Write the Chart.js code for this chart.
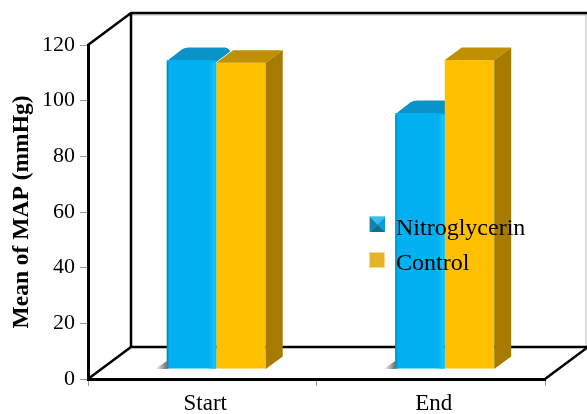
<!DOCTYPE html>
<html>
<head>
<meta charset="utf-8">
<style>
    html, body { margin: 0; padding: 0; background: #fff; }
    canvas { display: block; }
</style>
<script src="https://cdn.jsdelivr.net/npm/chart.js@4/dist/chart.umd.min.js"></script>
</head>
<body>
<canvas id="chart" width="587" height="414"></canvas>
<script>
const categories = [ 'Start', 'End' ];
const seriesNames = [ 'Nitroglycerin', 'Control' ];
const nitroglycerin = [ 111, 92 ];
const control = [ 110, 111 ];
const yTicks = [ 0, 20, 40, 60, 80, 100, 120 ];

const SERIF = '"Liberation Serif", "Times New Roman", serif';
const BLUE = '#00b0f0';
const BLUE_TOP = '#0a93c8';
const GOLD = '#ffc000';
const GOLD_TOP = '#c09000';
const GOLD_SIDE = '#a67c00';

// frame depth (wall behind the plot), bar offset on the floor, bar's own depth
const WALL_X = 43, WALL_Y = 32;
const FLOOR_X = 14, FLOOR_Y = 10;
const BAR_X = 17, BAR_Y = 12.5;

function polygon( ctx, pts, fill ) {
    ctx.beginPath();
    pts.forEach( ( p, i ) => i ? ctx.lineTo( p[ 0 ], p[ 1 ] ) : ctx.moveTo( p[ 0 ], p[ 1 ] ) );
    ctx.closePath();
    ctx.fillStyle = fill;
    ctx.fill();
}

function line( ctx, pts, colour, width ) {
    ctx.beginPath();
    pts.forEach( ( p, i ) => i ? ctx.lineTo( p[ 0 ], p[ 1 ] ) : ctx.moveTo( p[ 0 ], p[ 1 ] ) );
    ctx.strokeStyle = colour;
    ctx.lineWidth = width;
    ctx.stroke();
}

function drawFrame( chart ) {
    const { ctx, chartArea: a, width } = chart;
    const backLeft = a.left + WALL_X, backTop = a.top - WALL_Y, backBottom = a.bottom - WALL_Y;
    line( ctx, [ [ width - 1, backTop ], [ width - 1, backBottom ] ], '#bbb', 1 );
    line( ctx, [ [ backLeft, backTop + 2 ], [ width, backTop + 2 ] ], '#bbb', 1 );
    line( ctx, [ [ a.left, a.top ], [ backLeft, backTop ], [ width, backTop ] ], '#000', 2.5 );
    line( ctx, [ [ backLeft, backTop ], [ backLeft, backBottom ] ], '#000', 2.5 );
    line( ctx, [ [ a.left, a.bottom ], [ backLeft, backBottom ], [ width, backBottom ] ], '#000', 2.5 );
    line( ctx, [ [ a.right, a.bottom ], [ a.right + WALL_X, backBottom ] ], '#000', 2.5 );
}

// rounded top of the nitroglycerin bars, sits behind the control bar
function drawNitroTop( ctx, bar ) {
    const l = bar.x - bar.width / 2 + FLOOR_X, r = bar.x + bar.width / 2 + FLOOR_X, t = bar.y - FLOOR_Y;
    const backY = t - 12.5, backX = 19;
    ctx.beginPath();
    ctx.moveTo( l, t + 5 );
    ctx.quadraticCurveTo( l, t + 1, l + 4, t - 2 );
    ctx.lineTo( l + backX - 4, backY + 2 );
    ctx.quadraticCurveTo( l + backX - 1, backY, l + backX + 3, backY );
    ctx.lineTo( r + 8, backY );
    ctx.quadraticCurveTo( r + 12, backY, r + 14, backY + 4 );
    ctx.lineTo( r, t + 2 );
    ctx.closePath();
    ctx.fillStyle = BLUE_TOP;
    ctx.fill();
}

function drawNitroShade( ctx, bar, base ) {
    const l = bar.x - bar.width / 2 + FLOOR_X, r = bar.x + bar.width / 2 + FLOOR_X;
    const t = bar.y - FLOOR_Y, b = base - FLOOR_Y;
    const g = ctx.createLinearGradient( l, 0, r, 0 );
    g.addColorStop( 0, 'rgba(0,100,150,.7)' );
    g.addColorStop( 0.07, 'rgba(0,176,240,0)' );
    g.addColorStop( 0.82, 'rgba(0,176,240,0)' );
    g.addColorStop( 0.95, 'rgba(30,200,255,.8)' );
    g.addColorStop( 1, 'rgba(30,200,255,.3)' );
    ctx.fillStyle = g;
    ctx.fillRect( l, t + 2, r - l, b - t - 2 );

    const s = ctx.createLinearGradient( l - 12, 0, l, 0 );
    s.addColorStop( 0, 'rgba(120,120,120,0)' );
    s.addColorStop( 1, 'rgba(90,90,90,.9)' );
    polygon( ctx, [ [ l - 12, b ], [ l, b - 8 ], [ l, b ] ], s );
}

function drawControlBox( ctx, bar, base ) {
    const l = bar.x - bar.width / 2 + FLOOR_X, r = bar.x + bar.width / 2 + FLOOR_X;
    const t = bar.y - FLOOR_Y, b = base - FLOOR_Y;
    polygon( ctx, [ [ l, t ], [ l + BAR_X, t - BAR_Y ], [ r + BAR_X, t - BAR_Y ], [ r, t ] ], GOLD_TOP );
    polygon( ctx, [ [ r, t ], [ r + BAR_X, t - BAR_Y ], [ r + BAR_X, b - BAR_Y ], [ r, b ] ], GOLD_SIDE );
}

function drawLegend( chart ) {
    const { ctx } = chart;
    const x = 370, size = 15, rows = [ 217, 253 ];

    // bevelled marker for the first series
    const y = rows[ 0 ];
    ctx.fillStyle = '#7fd4f2';
    ctx.fillRect( x - 1, y - 1, size + 1, size + 1 );
    polygon( ctx, [ [ x, y ], [ x + size, y ], [ x + size / 2, y + size / 2 ] ], '#35c0ee' );
    polygon( ctx, [ [ x, y ], [ x, y + size ], [ x + size / 2, y + size / 2 ] ], '#1a7fa6' );
    polygon( ctx, [ [ x + size, y ], [ x + size, y + size ], [ x + size / 2, y + size / 2 ] ], '#0a9ed6' );
    polygon( ctx, [ [ x, y + size ], [ x + size, y + size ], [ x + size / 2, y + size / 2 ] ], '#0b6f96' );

    ctx.fillStyle = '#f5dc90';
    ctx.fillRect( x - 1, rows[ 1 ] - 1, size + 1, size + 1 );
    ctx.fillStyle = '#e5b32a';
    ctx.fillRect( x, rows[ 1 ], size - 1, size - 1 );

    ctx.fillStyle = '#000';
    ctx.font = '24px ' + SERIF;
    ctx.textAlign = 'left';
    ctx.textBaseline = 'alphabetic';
    ctx.fillText( seriesNames[ 0 ], 396, 235 );
    ctx.fillText( seriesNames[ 1 ], 396, 270 );
}

const box3d = {
    id: 'box3d',
    beforeDatasetsDraw( chart ) {
        const { ctx } = chart;
        drawFrame( chart );
        chart.getDatasetMeta( 0 ).data.forEach( ( bar ) => drawNitroTop( ctx, bar ) );
        ctx.save();
        ctx.translate( FLOOR_X, -FLOOR_Y );
    },
    afterDatasetsDraw( chart ) {
        const { ctx, scales } = chart;
        ctx.restore();
        const base = scales.y.getPixelForValue( 0 );
        chart.getDatasetMeta( 0 ).data.forEach( ( bar ) => drawNitroShade( ctx, bar, base ) );
        chart.getDatasetMeta( 1 ).data.forEach( ( bar ) => drawControlBox( ctx, bar, base ) );
        drawLegend( chart );
    },
};

new Chart( document.getElementById( 'chart' ), {
    type: 'bar',
    data: {
        labels: categories,
        datasets: [
            { label: seriesNames[ 0 ], data: nitroglycerin, backgroundColor: BLUE },
            { label: seriesNames[ 1 ], data: control, backgroundColor: GOLD },
        ],
    },
    plugins: [ box3d ],
    options: {
        responsive: false,
        animation: false,
        categoryPercentage: 0.433,
        barPercentage: 1,
        layout: { padding: { top: 45, right: 42, left: 0, bottom: 0 } },
        plugins: { legend: { display: false }, tooltip: { enabled: false } },
        scales: {
            x: {
                afterFit: ( s ) => { s.height = 35; },
                grid: { drawOnChartArea: false, drawTicks: true, tickLength: 7, color: '#999', lineWidth: 1 },
                border: { color: '#000', width: 3 },
                ticks: { color: '#000', font: { family: SERIF, size: 23 }, padding: 4, maxRotation: 0, labelOffset: 3 },
            },
            y: {
                min: 0,
                max: 120,
                afterFit: ( s ) => { s.width = 88; },
                afterBuildTicks: ( s ) => { s.ticks = yTicks.map( ( value ) => ( { value } ) ); },
                grid: { drawOnChartArea: false, drawTicks: true, tickLength: 8, color: '#999', lineWidth: 1 },
                border: { color: '#000', width: 3 },
                ticks: { color: '#000', font: { family: SERIF, size: 22 }, padding: 5 },
                title: {
                    display: true,
                    text: 'Mean of MAP (mmHg)',
                    color: '#000',
                    font: { family: SERIF, size: 23.5, weight: 'bold' },
                    padding: { top: 8, bottom: 0 },
                },
            },
        },
    },
} );
</script>
</body>
</html>
